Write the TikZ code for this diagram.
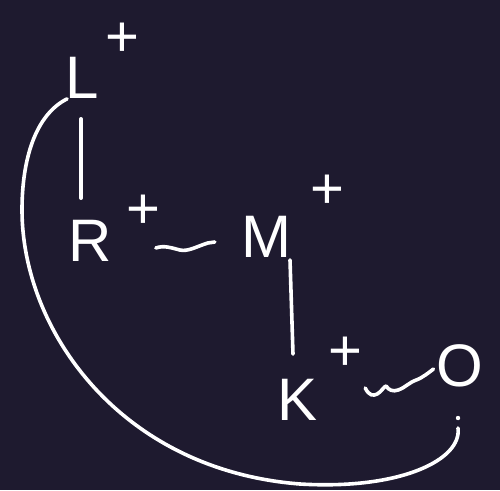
\documentclass[tikz,border=0pt]{standalone}
\usepackage{fontspec}
\setmainfont{Liberation Sans}
\usetikzlibrary{calc}
\definecolor{bg}{HTML}{1E1A2F}
\tikzset{
  letter/.style={text=white,inner sep=0pt,font=\fontsize{60}{60}\selectfont},
  charge/.style={text=white,inner sep=0pt,font=\fontsize{58}{58}\selectfont},
  ink/.style={draw=white,line width=3.6pt,line cap=round,line join=round}
}
\begin{document}
\begin{tikzpicture}[x=1pt,y=-1pt]
\fill[bg] (0,0) rectangle (500,490);
\useasboundingbox (0,0) rectangle (500,490);
\node[letter] (L) at (82,78) {L};
\node[charge] (Lp) at (122,40) {+};
\node[letter] (R) at (90,241) {R};
\node[charge] (Rp) at (143,212) {+};
\node[letter] (M) at (266,237) {M};
\node[charge] (Mp) at (327,192) {+};
\node[letter] (K) at (298,400) {K};
\node[charge] (Kp) at (345,354) {+};
\node[letter] (O) at (460,366) {O};
\coordinate (dot) at (458,418);
\coordinate (cend) at (458,428);
% bonds
\draw[ink] ($(L.south)+(-1,20)$) -- ($(R.north)+(-9,-22)$);
\draw[ink] ($(M.south)+(24,2)$) -- ($(K.north)+(-5,-25)$);
\draw[ink] ($(R.east)+(44,7)$) .. controls +(8,-3) and +(-8,-2) .. ++(24,2)
  .. controls +(8,2) and +(-10,3) .. ($(M.west)+(-33,6)$)
  .. controls +(4,-1) and +(-4,0) .. ($(M.west)+(-26,5)$);
\draw[ink] ($(K.east)+(47,-12)$) .. controls +(4,8) and +(-4,2) .. ++(12,6)
  .. controls +(4,-2) and +(-2,0) .. ++(9,-8)
  .. controls +(2,4) and +(-5,2) .. ++(12,4)
  .. controls +(8,-3) and +(-8,3) .. ++(18,-10)
  .. controls +(6,-2) and +(-4,3) .. ($(O.west)+(-3,3)$);
% big curve
\draw[ink] ($(L.south west)+(2,0)$) .. controls (35,115) and (22,160) .. (22,210)
  .. controls (22,330) and (120,470) .. (300,484)
  .. controls (400,490) and (462,460) .. (cend);
\fill[white] (dot) circle (2.2);
\end{tikzpicture}
\end{document}
